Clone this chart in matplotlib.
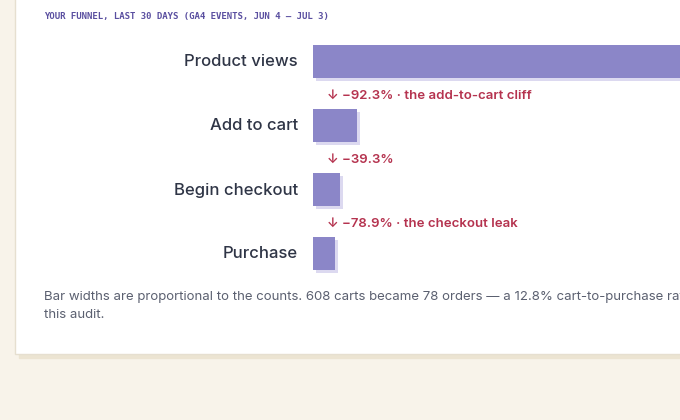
import matplotlib.pyplot as plt
from matplotlib.patches import Rectangle

stages = ['Product views', 'Add to cart', 'Begin checkout', 'Purchase']
counts = [7896, 608, 369, 78]
drops = ['↓ −92.3% · the add-to-cart cliff', '↓ −39.3%', '↓ −78.9% · the checkout leak']

fig = plt.figure(figsize=(6.8, 4.2), dpi=100, facecolor='#f8f3ea')
plt.rcParams['font.family'] = ['Inter', 'DejaVu Sans']

# card
bg = fig.add_axes([0, 0, 1, 1])
bg.set_xlim(0, 680)
bg.set_ylim(420, 0)
bg.axis('off')
bg.add_patch(Rectangle((19, -10), 700, 368, color='#ece4d2', zorder=0))
bg.add_patch(Rectangle((15, -10), 700, 364, facecolor='white', edgecolor='#e6dfd0', lw=1, zorder=1))
bg.text(44, 16, 'YOUR FUNNEL, LAST 30 DAYS (GA4 EVENTS, JUN 4 – JUL 3)', fontsize=6.5,
        color='#5a4fa0', fontweight='bold', family='DejaVu Sans Mono', va='center', zorder=2)
# text runs past the right edge, as in the reference
bg.text(44, 306, 'Bar widths are proportional to the counts. 608 carts became 78 orders — a 12.8% cart-to-purchase rate across\nthis audit.',
        fontsize=9.5, color='#5b6070', va='center', linespacing=1.7, zorder=2)

ax = fig.add_axes([313 / 680, 0, 367 / 680, 1])
ax.set_xlim(0, 367 * 608 / 44)
ax.set_ylim(420, 0)
ax.axis('off')
ax.patch.set_alpha(0)

xmax = ax.get_xlim()[1]
px = xmax / 367
for i, (s, c) in enumerate(zip(stages, counts)):
    yc = 61 + 64 * i
    w = max(c, 22 * px)
    ax.barh(yc + 3, w, height=33, left=3 * px, color='#dcd9f0', zorder=1)
    ax.barh(yc, w, height=33, color='#8b86c8', zorder=2)
    bg.text(298, yc + 1, s, ha='right', va='center', fontsize=12, color='#2f3546', fontweight='medium')
for i, d in enumerate(drops):
    bg.text(327, 96 + 64 * i, d, va='center', fontsize=9.5, color='#b5334f', fontweight='semibold')

fig.savefig('out.png', dpi=100, facecolor=fig.get_facecolor())
